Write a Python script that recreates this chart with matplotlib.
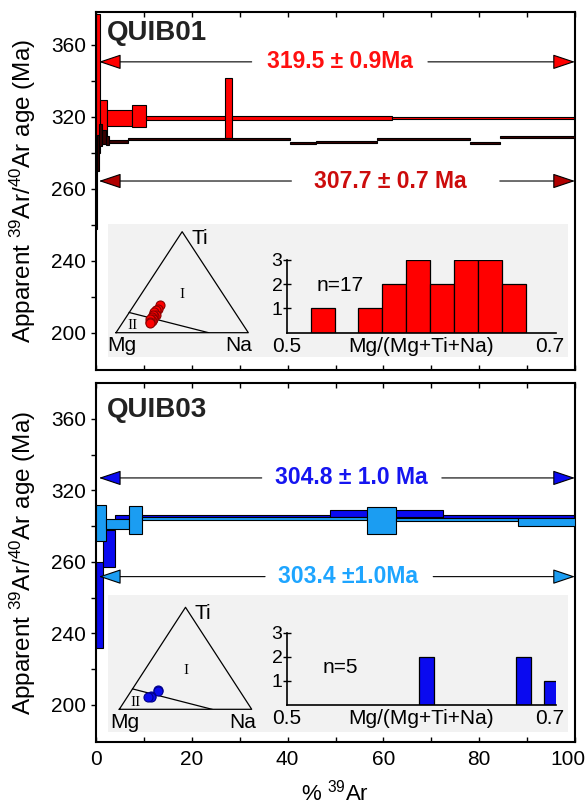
import numpy as np
import matplotlib.pyplot as plt
from matplotlib.patches import Rectangle
from matplotlib.transforms import ScaledTranslation

plt.rcParams['font.family'] = ['Liberation Sans', 'DejaVu Sans']
plt.rcParams['mathtext.fontset'] = 'custom'
plt.rcParams['mathtext.rm'] = 'Liberation Sans'
plt.rcParams['mathtext.it'] = 'Liberation Sans:italic'
plt.rcParams['mathtext.bf'] = 'Liberation Sans:bold'

W, H = 588, 805

# --- age spectra: cumulative %39Ar step edges, apparent age, 1 sigma ---
q01_red_edges = [0.1, 0.8, 2.4, 7.5, 10.5, 27.0, 28.4, 61.8, 100.0]
q01_red_age = [338.5, 319.0, 319.5, 320.5, 319.3, 325.0, 319.3, 319.3]
q01_red_err = [38.5, 10.5, 4.5, 6.2, 1.1, 16.5, 1.1, 0.6]

q01_blk_edges = [0.0, 0.3, 0.7, 1.2, 2.0, 2.8, 6.7, 40.5, 46.0, 58.6, 78.0, 84.3, 100.0]
q01_blk_age = [275.0, 300.0, 310.0, 309.0, 307.0, 306.3, 307.8, 305.4, 306.3, 307.6, 305.7, 309.0]
q01_blk_err = [17.0, 10.0, 6.0, 4.0, 2.5, 1.0, 0.6, 0.6, 0.6, 0.6, 0.6, 0.6]

q03_dark_edges = [0.1, 1.5, 4.0, 48.9, 72.5, 100.0]
q03_dark_age = [256.0, 287.7, 305.2, 307.3, 305.4]
q03_dark_err = [24.0, 10.3, 1.0, 1.9, 0.9]

q03_light_edges = [0.1, 2.1, 6.9, 9.7, 56.5, 62.6, 88.0, 100.0]
q03_light_age = [302.0, 301.2, 303.5, 304.2, 303.2, 303.6, 302.3]
q03_light_err = [10.0, 2.9, 7.8, 0.8, 7.5, 0.8, 2.2]

# plateau labels: text, %39Ar of text centre, y (Ma), left arrow start, right arrow start
q01_plateaus = [("319.5 ± 0.9Ma", 51.0, 350.6, 32.5, 69.3),
                ("307.7 ± 0.7 Ma", 61.4, 284.4, 40.8, 84.3)]
q03_plateaus = [("304.8 ± 1.0 Ma", 53.4, 327.0, 34.6, 72.2),
                ("303.4 ±1.0Ma", 52.6, 271.8, 35.3, 70.4)]

age_ticks = [200, 240, 280, 320, 360]
age_tick_labels = ['200', '240', '260', '320', '360']

# --- ternary Mg-Ti-Na compositions ---
q01_mg = [0.53, 0.57, 0.59, 0.59, 0.61, 0.61, 0.61, 0.63, 0.63, 0.65, 0.65, 0.65, 0.67, 0.67, 0.67, 0.69, 0.69]
q01_ti = [0.27, 0.23, 0.21, 0.22, 0.19, 0.20, 0.18, 0.17, 0.18, 0.15, 0.16, 0.14, 0.13, 0.12, 0.14, 0.11, 0.10]
q01_na = [0.20, 0.20, 0.20, 0.19, 0.20, 0.19, 0.21, 0.20, 0.19, 0.20, 0.19, 0.21, 0.20, 0.21, 0.19, 0.20, 0.21]

q03_mg = [0.612, 0.618, 0.695, 0.698, 0.720]
q03_ti = [0.190, 0.175, 0.130, 0.125, 0.120]
q03_na = [0.198, 0.207, 0.175, 0.177, 0.160]

field_line_mg = [0.8, 0.3]
field_line_ti = [0.2, 0.0]
field_line_na = [0.0, 0.7]

# --- Mg/(Mg+Ti+Na) histograms ---
q01_hist_left = [0.52, 0.54, 0.56, 0.58, 0.60, 0.62, 0.64, 0.66, 0.68]
q01_hist_count = [1, 0, 1, 2, 3, 2, 3, 3, 2]
q01_hist_width = 0.02
q03_hist_left = [0.611, 0.692, 0.715]
q03_hist_count = [2, 2, 1]
q03_hist_width = 0.012


def px_box(x0, y0, x1, y1):
    return [x0 / W, 1 - y1 / H, (x1 - x0) / W, (y1 - y0) / H]


def draw_steps(ax, edges, ages, errs, color, z):
    edges = np.asarray(edges)
    ages = np.asarray(ages)
    errs = np.asarray(errs)
    ax.bar(edges[:-1], 2 * errs, width=np.diff(edges), bottom=ages - errs,
           align='edge', color=color, edgecolor='black', linewidth=0.8, zorder=z)


def plateau(ax, label, xc, y, xl, xr, tcolor, acolor):
    ax.text(xc, y, label, color=tcolor, fontsize=16.5, fontweight='bold',
            ha='center', va='center', zorder=5)
    for x_from, x_to in [(xl, 0.6), (xr, 100)]:
        ax.annotate('', xy=(x_to, y), xytext=(x_from, y), zorder=5,
                    arrowprops=dict(arrowstyle='-|>,head_length=1.4,head_width=0.47',
                                    fc=acolor, ec='black', lw=0.8,
                                    shrinkA=0, shrinkB=0, mutation_scale=10))


def style_main(ax, ylim, show_x):
    ax.set_xlim(0, 100)
    ax.set_ylim(*ylim)
    ax.set_yticks(age_ticks)
    ax.set_yticklabels(age_tick_labels)
    ax.set_yticks([220, 260, 300, 340], minor=True)
    ax.set_xticks(np.arange(0, 101, 20))
    ax.set_xticks(np.arange(10, 100, 20), minor=True)
    ax.tick_params(axis='x', which='both', direction='in', top=True, bottom=True,
                   length=3.5, width=1, labelsize=15, pad=6, labelbottom=show_x)
    ax.tick_params(axis='y', which='both', direction='out', left=True, right=False,
                   length=3.5, width=1, labelsize=15)
    for s in ax.spines.values():
        s.set_linewidth(1.5)
    ax.set_ylabel('Apparent $^{39}$Ar/$^{40}$Ar age (Ma)', fontsize=17.5)
    ax.yaxis.set_label_coords(-0.122, 0.5)


def ternary(box, mg, ti, na, color, ecolor):
    tx = fig.add_axes(box)
    tx.set_xlim(0, 1)
    tx.set_ylim(0, np.sqrt(3) / 2)
    tx.axis('off')
    tri = np.array([[0, 0], [1, 0], [0.5, np.sqrt(3) / 2], [0, 0]])
    tx.plot(tri[:, 0], tri[:, 1], color='black', lw=0.9, clip_on=False)
    lx = np.array(field_line_na) + np.array(field_line_ti) / 2
    ly = np.array(field_line_ti) * np.sqrt(3) / 2
    tx.plot(lx, ly, color='black', lw=0.9)
    px = np.array(na) + np.array(ti) / 2
    py = np.array(ti) * np.sqrt(3) / 2
    tx.plot(px, py, 'o', ms=6.5, mfc=color, mec=ecolor, mew=0.8, clip_on=False)
    tx.text(0.63, 0.81, 'Ti', fontsize=15, ha='center', va='center')
    tx.text(0.045, -0.11, 'Mg', fontsize=15, ha='center', va='center')
    tx.text(0.93, -0.11, 'Na', fontsize=15, ha='center', va='center')
    tx.text(0.5, 0.33, 'I', fontsize=11, family='Liberation Serif', ha='center', va='center')
    tx.text(0.125, 0.06, 'II', fontsize=11, family='Liberation Serif', ha='center', va='center')


def histogram(box, left, count, width, color, ntext, ny):
    hx = fig.add_axes(box)
    hx.patch.set_alpha(0)
    hx.bar(left, count, width=width, align='edge', color=color, edgecolor='black', lw=0.9)
    hx.set_xlim(0.5, 0.725)
    hx.set_ylim(0, 3)
    hx.spines['top'].set_visible(False)
    hx.spines['right'].set_visible(False)
    hx.spines['left'].set_linewidth(1.2)
    hx.spines['bottom'].set_linewidth(1.2)
    hx.set_xticks([])
    hx.set_yticks([1, 2, 3])
    hx.tick_params(axis='y', direction='inout', length=6, width=1, labelsize=14, pad=0)
    tr = hx.get_xaxis_transform()
    hx.text(0.5, -0.19, '0.5', transform=tr, fontsize=15, ha='center', va='center')
    hx.text(0.72, -0.19, '0.7', transform=tr, fontsize=15, ha='center', va='center')
    hx.text(0.6125, -0.19, 'Mg/(Mg+Ti+Na)', transform=tr, fontsize=15, ha='center', va='center')
    hx.text(0.545, ny, ntext, fontsize=15, ha='center', va='center')


fig = plt.figure(figsize=(W / 100, H / 100), dpi=100)

# ---------- QUIB01 ----------
ax1 = fig.add_axes(px_box(96, 12, 575, 370))
style_main(ax1, (179.4, 378.3), False)
ax1.add_patch(Rectangle((0.025, 0.036), 0.960, 0.372, transform=ax1.transAxes,
                        facecolor='#f2f2f2', edgecolor='none', zorder=0))
draw_steps(ax1, q01_red_edges, q01_red_age, q01_red_err, '#ff0000', 2)
draw_steps(ax1, q01_blk_edges, q01_blk_age, q01_blk_err, '#3a0000', 3)
ax1.text(0.022, 0.941, 'QUIB01', transform=ax1.transAxes, fontsize=20,
         fontweight='bold', color='#222222', va='center')
for (lab, xc, y, xl, xr), tc, ac in zip(q01_plateaus, ['#ff1010', '#cc0c0c'], ['#ff0000', '#b00000']):
    plateau(ax1, lab, xc, y, xl, xr, tc, ac)

ternary(px_box(116, 231.7, 248.3, 332.7), q01_mg, q01_ti, q01_na, '#ff0000', '#8b0000')
histogram(px_box(286.7, 260, 555.6, 332.7), q01_hist_left, q01_hist_count, q01_hist_width,
          '#ff0000', 'n=17', 1.93)

# ---------- QUIB03 ----------
ax2 = fig.add_axes(px_box(96, 383, 575, 742))
style_main(ax2, (179.3, 380.1), True)
ax2.add_patch(Rectangle((0.025, 0.029), 0.960, 0.381, transform=ax2.transAxes,
                        facecolor='#f2f2f2', edgecolor='none', zorder=0))
draw_steps(ax2, q03_dark_edges, q03_dark_age, q03_dark_err, '#0a0af0', 2)
draw_steps(ax2, q03_light_edges, q03_light_age, q03_light_err, '#1b9df2', 3)
ax2.text(0.022, 0.925, 'QUIB03', transform=ax2.transAxes, fontsize=20,
         fontweight='bold', color='#222222', va='center')
for (lab, xc, y, xl, xr), tc, ac in zip(q03_plateaus, ['#1515f0', '#1ea5ff'], ['#0a0af0', '#1b9df2']):
    plateau(ax2, lab, xc, y, xl, xr, tc, ac)
ax2.set_xlabel('% $^{39}$Ar', fontsize=16)
ax2.xaxis.set_label_coords(0.5, -0.105)
# keep the "100" label inside the canvas, as in the original
last = ax2.get_xticklabels()[-1]
last.set_transform(last.get_transform() + ScaledTranslation(-0.07, 0, fig.dpi_scale_trans))

ternary(px_box(119.3, 607.3, 251.7, 709.3), q03_mg, q03_ti, q03_na, '#0a0af0', '#00008b')
histogram(px_box(286.7, 632.7, 555.6, 705), q03_hist_left, q03_hist_count, q03_hist_width,
          '#0a0af0', 'n=5', 1.56)

fig.savefig('out.png', dpi=100)
